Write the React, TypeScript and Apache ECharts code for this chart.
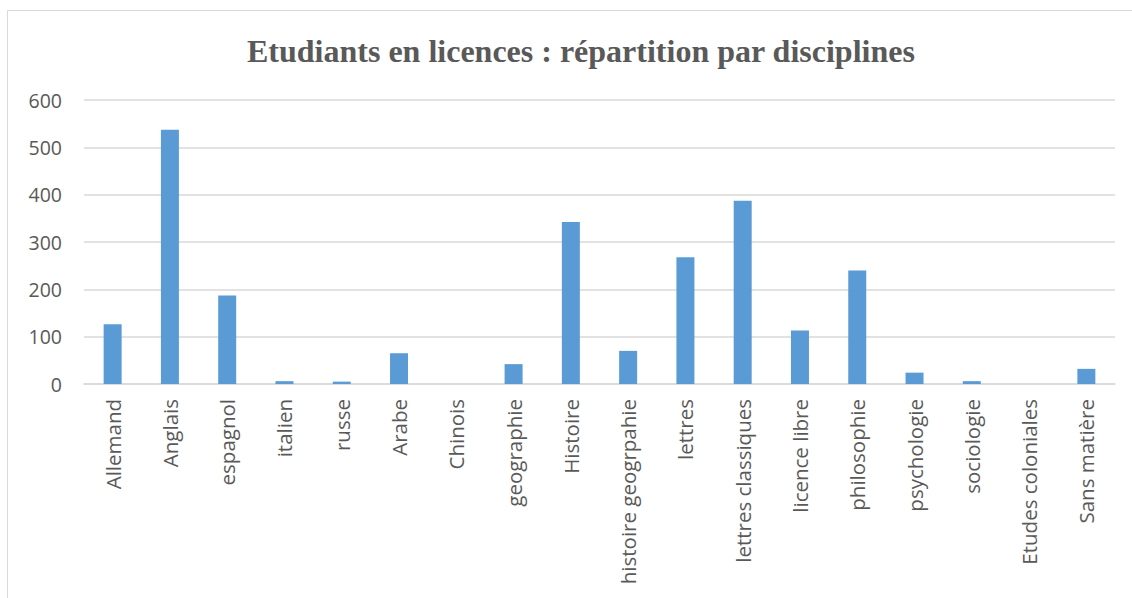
import React, { useEffect, useRef } from "react";
import * as echarts from "echarts";

const titleText = "Etudiants en licences : répartition par disciplines";
const categories = [
  "Allemand", "Anglais", "espagnol", "italien", "russe", "Arabe", "Chinois",
  "geographie", "Histoire", "histoire geogrpahie", "lettres", "lettres classiques",
  "licence libre", "philosophie", "psychologie", "sociologie", "Etudes coloniales", "Sans matière",
];
const values = [126, 537, 187, 6, 5, 65, 0, 42, 342, 70, 268, 387, 113, 240, 24, 6, 0, 32];
const yMin = 0;
const yMax = 600;
const yInterval = 100;

export default function App() {
  const ref = useRef<HTMLDivElement>(null);
  useEffect(() => {
    const chart = echarts.init(ref.current!, undefined, { renderer: "svg" });
    chart.setOption({
      animation: false,
      backgroundColor: "#ffffff",
      title: {
        text: titleText,
        left: 242,
        top: 30,
        textStyle: {
          fontFamily: "Liberation Serif",
          fontWeight: "bold",
          fontSize: 32,
          color: "#595959",
        },
      },
      graphic: [
        {
          type: "rect",
          shape: { x: 7.5, y: 10.5, width: 1140, height: 600 },
          style: { fill: "none", stroke: "#d9d9d9", lineWidth: 1 },
          silent: true,
        },
      ],
      grid: { left: 84, right: 17, top: 100, bottom: 214 },
      xAxis: {
        type: "category",
        data: categories,
        axisLine: { lineStyle: { color: "#d9d9d9", width: 1.5 } },
        axisTick: { show: false },
        axisLabel: {
          rotate: 90,
          interval: 0,
          margin: 15,
          fontFamily: "Open Sans",
          fontSize: 20.5,
          color: "#595959",
        },
      },
      yAxis: {
        type: "value",
        min: yMin,
        max: yMax,
        interval: yInterval,
        axisLine: { show: false },
        axisTick: { show: false },
        splitLine: { lineStyle: { color: "#d9d9d9", width: 1.5 } },
        axisLabel: {
          margin: 22,
          fontFamily: "Open Sans",
          fontSize: 19.5,
          color: "#595959",
        },
      },
      series: [
        {
          type: "bar",
          data: values,
          barWidth: 18,
          itemStyle: { color: "#5b9bd5" },
        },
      ],
    });
    return () => chart.dispose();
  }, []);
  return (
    <div
      ref={ref}
      style={{ position: "fixed", left: 0, top: 0, width: 1132, height: 598 }}
    />
  );
}
